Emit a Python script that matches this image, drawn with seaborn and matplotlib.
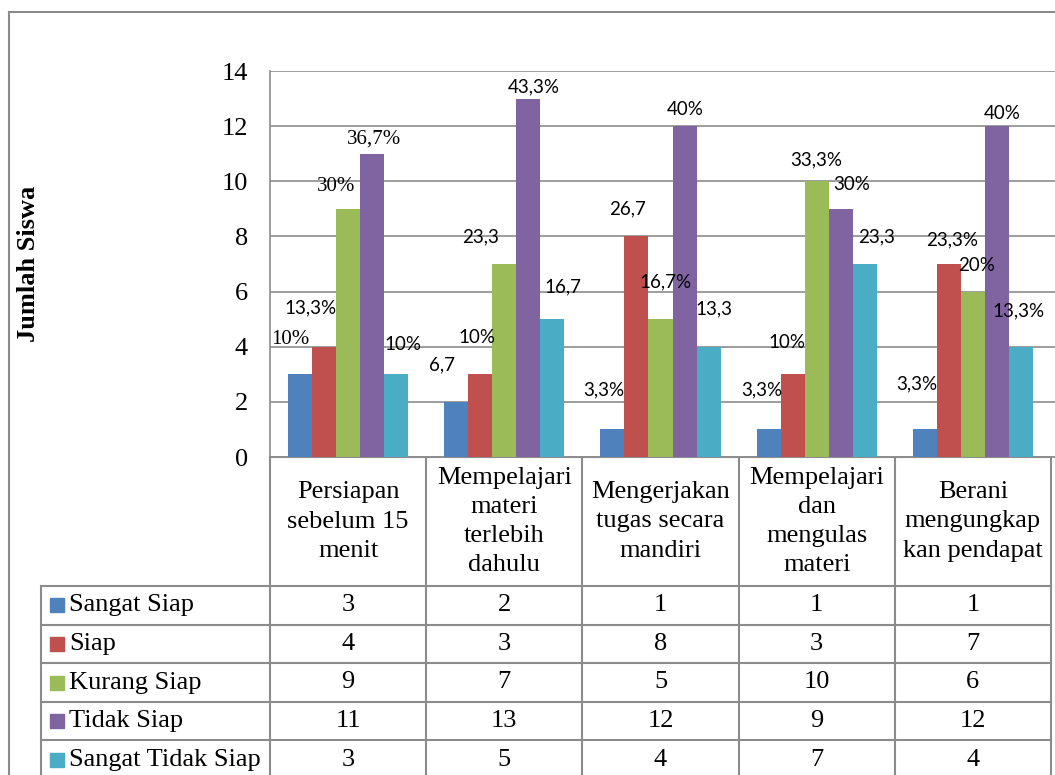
import pandas as pd
import matplotlib.pyplot as plt
import seaborn as sns
from matplotlib.lines import Line2D
from matplotlib.patches import Rectangle

# data
kategori = ["Persiapan\nsebelum 15\nmenit",
            "Mempelajari\nmateri\nterlebih\ndahulu",
            "Mengerjakan\ntugas secara\nmandiri",
            "Mempelajari\ndan\nmengulas\nmateri",
            "Berani\nmengungkap\nkan pendapat"]
respon = ["Sangat Siap", "Siap", "Kurang Siap", "Tidak Siap", "Sangat Tidak Siap"]
sangat_siap = [3, 2, 1, 1, 1]
siap = [4, 3, 8, 3, 7]
kurang_siap = [9, 7, 5, 10, 6]
tidak_siap = [11, 13, 12, 9, 12]
sangat_tidak_siap = [3, 5, 4, 7, 4]
label_persen = [
    ["10%", "6,7", "3,3%", "3,3%", "3,3%"],
    ["13,3%", "10%", "26,7", "10%", "23,3%"],
    ["30%", "23,3", "16,7%", "33,3%", "20%"],
    ["36,7%", "43,3%", "40%", "30%", "40%"],
    ["10%", "16,7", "13,3", "23,3", "13,3%"],
]
warna = ["#4F81BD", "#C0504D", "#9BBB59", "#8064A2", "#4BACC6"]

# label offsets (pixels from bar top centre), moved by hand in the original
geser = [
    [(-10, 35), (-14, 37), (-9, 40), (-7, 40), (-8, 46)],
    [(-14, 39), (-3, 37), (-9, 28), (-6, 32), (3, 24)],
    [(-12, 22), (-24, 27), (5, 37), (0, 21), (4, 26)],
    [(2, 15), (5, 12), (1, 17), (11, 24), (5, 13)],
    [(7, 30), (11, 32), (5, 38), (12, 27), (-3, 36)],
]
label_serif = {(0, 0), (2, 0), (3, 0)}

nilai = [sangat_siap, siap, kurang_siap, tidak_siap, sangat_tidak_siap]
df = pd.DataFrame({
    "kategori": [k for _ in respon for k in kategori],
    "respon": [r for r in respon for _ in kategori],
    "jumlah": [v for seri in nilai for v in seri],
})

W, H = 1055, 775
fig = plt.figure(figsize=(W / 100, H / 100), dpi=100)
serif = ["Liberation Serif", "DejaVu Serif"]
garis = "#8c8c8c"

x0, x1, ytop, ybase = 270, 1051, 71, 457
ax = fig.add_axes([x0 / W, 1 - ybase / H, (W - x0) / W, (ybase - ytop) / H])
sns.barplot(data=df, x="kategori", y="jumlah", hue="respon", order=kategori,
            hue_order=respon, palette=warna, saturation=1, width=0.77,
            linewidth=0, legend=False, ax=ax, zorder=3)

colw = (x1 - x0) / len(kategori)
ax.set_xlim(-0.5, len(kategori) - 0.5 + (W - x1) / colw)
ax.set_ylim(0, 14)
ax.set_yticks(range(0, 15, 2))
ax.set_yticklabels([str(v) for v in range(0, 15, 2)], fontsize=19, family=serif)
ax.tick_params(axis="y", length=0, pad=16)
ax.tick_params(axis="x", length=0, labelbottom=False)
ax.set_xlabel("")
ax.set_ylabel("")
ax.grid(axis="y", color=garis, linewidth=1.2, zorder=0)
ax.set_axisbelow(True)
for s in ["top", "right"]:
    ax.spines[s].set_visible(False)
for s in ["left", "bottom"]:
    ax.spines[s].set_color(garis)
    ax.spines[s].set_linewidth(1.2)

# data labels
for i, cont in enumerate(ax.containers):
    for j, bar in enumerate(cont.patches):
        if (i, j) in label_serif:
            fam, fs = serif, 15
        else:
            fam, fs = ["Lato", "DejaVu Sans"], 13.5
        ax.annotate(label_persen[i][j],
                    (bar.get_x() + bar.get_width() / 2, bar.get_height()),
                    xytext=geser[i][j], textcoords="offset pixels",
                    ha="center", va="center", fontsize=fs, family=fam,
                    annotation_clip=False, zorder=5)

# overlay in pixel coords for the frame and data table
ov = fig.add_axes([0, 0, 1, 1], zorder=-1)
ov.set_xlim(0, W)
ov.set_ylim(H, 0)
ov.axis("off")

def line(xs, ys, lw=1.5):
    ov.add_line(Line2D(xs, ys, color=garis, linewidth=lw))

line([9, W], [12, 12])
line([9, 9], [12, H])

row_top = 586
row_h = 38.6
leg_x = 41
for r in range(6):
    y = row_top + r * row_h
    line([leg_x, x1], [y, y])
line([x0, x1], [ybase, ybase])
line([leg_x, leg_x], [row_top, H])
for c in range(len(kategori) + 1):
    xc = x0 + c * colw
    line([xc, xc], [ybase, H])

for c, k in enumerate(kategori):
    ov.text(x0 + (c + 0.5) * colw, (ybase + row_top) / 2, k, ha="center",
            va="center", multialignment="center", linespacing=1.42,
            fontsize=19, family=serif)

for r, nama in enumerate(respon):
    yc = row_top + (r + 0.5) * row_h
    ov.add_patch(Rectangle((50, yc - 7), 14, 14, color=warna[r]))
    ov.text(69, yc, nama, ha="left", va="center", fontsize=19, family=serif)
    for c in range(len(kategori)):
        ov.text(x0 + (c + 0.5) * colw, yc, str(nilai[r][c]), ha="center",
                va="center", fontsize=19, family=serif)

ov.text(29, 264, "Jumlah Siswa", rotation=90, ha="center", va="center",
        fontsize=19, fontweight="bold", family=serif)

plt.savefig("out.png", dpi=100)
plt.close()
